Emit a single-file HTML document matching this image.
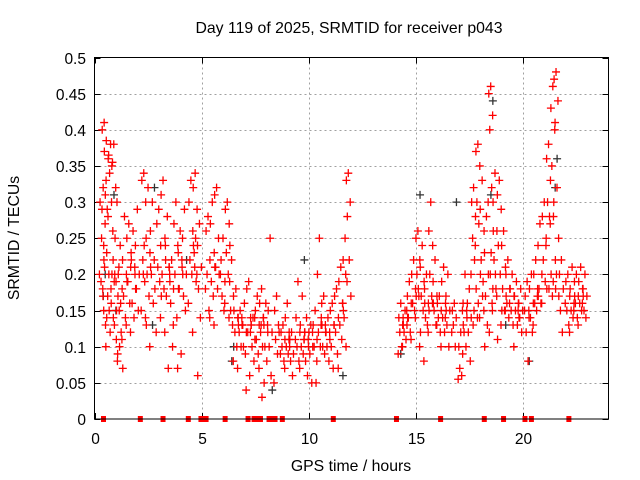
<!DOCTYPE html>
<html><head><meta charset="utf-8">
<style>
html,body{margin:0;padding:0;background:#fff;}
svg{display:block;font-family:"Liberation Sans",sans-serif;}
</style></head>
<body>
<svg id="chart" width="640" height="480" viewBox="0 0 640 480" xmlns="http://www.w3.org/2000/svg">
<rect width="640" height="480" fill="#fff"/>
<text x="349" y="33" font-size="15.8" text-anchor="middle" fill="#000">Day 119 of 2025, SRMTID for receiver p043</text>
<text transform="translate(19,238) rotate(-90)" font-size="15.8" text-anchor="middle" fill="#000">SRMTID / TECUs</text>
<text x="351" y="471" font-size="15.8" text-anchor="middle" fill="#000">GPS time / hours</text>
<g id="grid"></g>
<g id="ticks"></g>
<g id="black"></g>
<g id="red"></g>
<g id="zero"></g>
<rect x="94.5" y="57.5" width="514" height="361.5" fill="none" stroke="#000" stroke-width="1"/>
</svg>
<script>
const xTicks=[0,5,10,15,20];
const yTicks=[0,0.05,0.1,0.15,0.2,0.25,0.3,0.35,0.4,0.45,0.5];
const yTickLabels=["0","0.05","0.1","0.15","0.2","0.25","0.3","0.35","0.4","0.45","0.5"];
const redTimes=[0.35,0.45,0.55,0.75,0.9,1.05,1.2,1.4,1.6,1.8,2.0,2.3,2.5,2.7,3.0,3.2,3.4,3.6,3.8,4.0,4.2,4.5,4.7,4.9,5.3,5.5,5.7,6.0,6.2,6.4,6.6,6.8,7.0,7.2,7.4,7.6,7.8,8.0,8.2,8.5,8.8,9.0,9.2,9.5,9.7,9.9,10.1,10.3,10.5,10.7,10.9,11.1,11.3,11.5,11.7,11.85,
14.3,14.5,14.7,14.9,15.1,15.3,15.5,15.7,15.9,16.1,16.3,16.5,16.8,17.1,17.3,17.5,17.7,17.9,18.1,18.3,18.5,18.7,18.9,19.1,19.3,19.5,19.7,19.9,20.2,20.4,20.6,20.8,21.0,21.2,21.4,21.55,21.8,22.1,22.3,22.5,22.7,22.9];
const redValues=[[0.29,0.3,0.22,0.19,0.17,0.2],[0.41,0.40,0.33,0.32,0.27,0.25,0.23,0.21,0.15,0.13,0.18],[0.385,0.37,0.36,0.31,0.29,0.24,0.2,0.14,0.1,0.17],[0.38,0.365,0.355,0.34,0.3,0.28,0.22,0.18,0.12,0.2,0.15],[0.38,0.35,0.32,0.26,0.2,0.16,0.11,0.19,0.14],[0.3,0.25,0.21,0.19,0.17,0.13,0.1,0.08,0.15],[0.24,0.2,0.18,0.15,0.12,0.09,0.07,0.16],[0.28,0.22,0.2,0.17,0.14,0.11,0.19],[0.27,0.25,0.21,0.19,0.16,0.13,0.22],[0.26,0.23,0.2,0.16,0.14,0.12,0.18],[0.29,0.24,0.2,0.18,0.15,0.21],[0.34,0.33,0.3,0.22,0.19,0.15,0.13,0.24,0.2],[0.32,0.25,0.23,0.2,0.17,0.14,0.21],[0.3,0.26,0.22,0.2,0.16,0.1,0.18],[0.29,0.27,0.24,0.21,0.19,0.12,0.17],[0.33,0.31,0.25,0.2,0.18,0.14,0.22],[0.28,0.24,0.21,0.17,0.07,0.12,0.19],[0.22,0.2,0.18,0.16,0.1,0.21],[0.3,0.27,0.24,0.2,0.14,0.13,0.18],[0.26,0.23,0.21,0.18,0.09,0.07,0.2],[0.29,0.25,0.2,0.17,0.15,0.22],[0.33,0.3,0.26,0.22,0.2,0.16,0.24],[0.34,0.32,0.29,0.23,0.19,0.12,0.06,0.25,0.21],[0.27,0.24,0.21,0.18,0.14,0.2],[0.28,0.26,0.22,0.2,0.15,0.18],[0.3,0.27,0.23,0.19,0.17,0.14,0.21],[0.32,0.31,0.25,0.21,0.18,0.13,0.2],[0.25,0.22,0.19,0.17,0.15,0.2],[0.3,0.29,0.27,0.23,0.2,0.16,0.24],[0.22,0.19,0.17,0.15,0.13,0.14],[0.18,0.15,0.14,0.12,0.1,0.08,0.13],[0.15,0.14,0.13,0.12,0.1,0.07,0.13],[0.16,0.13,0.12,0.1,0.09,0.14],[0.19,0.18,0.14,0.12,0.06,0.04,0.13],[0.14,0.13,0.11,0.1,0.08,0.12],[0.17,0.15,0.13,0.11,0.09,0.14],[0.18,0.16,0.14,0.12,0.1,0.07,0.05,0.03,0.13],[0.16,0.13,0.12,0.1,0.08,0.14],[0.25,0.15,0.12,0.1,0.06,0.13],[0.17,0.15,0.13,0.11,0.09,0.05,0.12],[0.13,0.12,0.11,0.1,0.08,0.09],[0.16,0.14,0.12,0.1,0.09,0.07,0.11],[0.12,0.1,0.09,0.08,0.06,0.11],[0.19,0.14,0.12,0.1,0.08,0.11],[0.17,0.13,0.11,0.1,0.09,0.07,0.12],[0.14,0.12,0.1,0.08,0.06,0.11],[0.13,0.12,0.1,0.09,0.05,0.11],[0.15,0.13,0.11,0.1,0.05,0.12],[0.25,0.2,0.14,0.12,0.1,0.08,0.13],[0.17,0.16,0.12,0.1,0.09,0.13],[0.14,0.12,0.11,0.1,0.08,0.13],[0.16,0.15,0.13,0.1,0.07,0.12],[0.18,0.17,0.14,0.12,0.09,0.13],[0.21,0.19,0.16,0.13,0.11,0.07,0.15],[0.25,0.22,0.19,0.14,0.1,0.16],[0.34,0.33,0.3,0.28,0.22,0.2,0.17],
[0.16,0.14,0.13,0.12,0.1,0.09,0.13],[0.15,0.14,0.13,0.12,0.11,0.1,0.14],[0.19,0.17,0.16,0.14,0.12,0.15],[0.22,0.2,0.18,0.16,0.15,0.11,0.17],[0.26,0.25,0.22,0.2,0.17,0.14,0.12,0.18],[0.24,0.21,0.19,0.17,0.15,0.1,0.16],[0.2,0.18,0.16,0.14,0.13,0.08,0.15],[0.3,0.26,0.24,0.2,0.17,0.12,0.16],[0.22,0.19,0.17,0.15,0.13,0.16],[0.17,0.16,0.15,0.14,0.12,0.13],[0.21,0.19,0.16,0.14,0.12,0.1,0.15],[0.2,0.17,0.15,0.13,0.1,0.14],[0.16,0.15,0.14,0.13,0.1,0.12],[0.12,0.1,0.09,0.07,0.06,0.055,0.13],[0.2,0.16,0.14,0.12,0.1,0.15],[0.18,0.16,0.14,0.12,0.08,0.15],[0.32,0.3,0.28,0.25,0.22,0.2,0.18,0.15,0.13],[0.38,0.37,0.35,0.3,0.27,0.24,0.2,0.16,0.14],[0.33,0.29,0.26,0.22,0.19,0.14,0.1,0.17],[0.28,0.23,0.2,0.17,0.13,0.15],[0.46,0.45,0.42,0.4,0.32,0.3,0.26,0.23,0.2,0.16,0.12,0.18],[0.34,0.3,0.26,0.22,0.18,0.15,0.11,0.2],[0.33,0.31,0.29,0.24,0.2,0.17,0.15],[0.26,0.24,0.21,0.18,0.15,0.13,0.17],[0.22,0.2,0.18,0.16,0.14,0.15],[0.2,0.18,0.17,0.15,0.13,0.16],[0.19,0.17,0.16,0.15,0.13,0.1,0.14],[0.18,0.16,0.15,0.14,0.12,0.15],[0.19,0.17,0.14,0.12,0.08,0.15],[0.2,0.18,0.16,0.14,0.12,0.15],[0.22,0.2,0.18,0.16,0.15,0.13,0.17],[0.27,0.24,0.2,0.18,0.16,0.17],[0.3,0.28,0.25,0.22,0.19,0.16,0.18],[0.38,0.36,0.33,0.3,0.28,0.24,0.2,0.18],[0.46,0.43,0.4,0.35,0.3,0.27,0.22,0.19,0.17],[0.48,0.47,0.44,0.41,0.32,0.28,0.25,0.2,0.18],[0.22,0.2,0.18,0.15,0.12,0.17],[0.2,0.19,0.17,0.15,0.13,0.16],[0.21,0.18,0.16,0.15,0.14,0.12,0.17],[0.2,0.19,0.17,0.16,0.14,0.15],[0.21,0.19,0.18,0.16,0.15,0.13,0.17],[0.2,0.18,0.17,0.15,0.14,0.16]];
const blackTimes=[0.5,1.0,2.8,4.3,6.5,8.3,9.8,11.6,14.3,15.2,16.9,18.6,19.2,20.3,21.6];
const blackValues=[[0.2,0.17],[0.15,0.31],[0.32,0.13],[0.22],[0.1,0.08],[0.04],[0.22],[0.06],[0.09],[0.31],[0.3],[0.44,0.31],[0.13],[0.08],[0.36,0.32]];
const zeroTimes=[0.42,2.14,3.2,4.38,4.97,5.05,5.13,5.21,6.1,7.17,7.45,7.55,7.65,7.75,8.15,8.25,8.35,8.43,8.77,11.15,14.1,16.16,18.2,19.1,20.1,20.4,22.15];

const X0=94.5,X1=608.5,Y0=419,Y1=57.5,XMAX=24,YMAX=0.5;
const xs=t=>X0+(X1-X0)*t/XMAX;
const ys=v=>Y0-(Y0-Y1)*v/YMAX;
const NS="http://www.w3.org/2000/svg";
function mk(tag,attrs,parent){const e=document.createElementNS(NS,tag);for(const k in attrs)e.setAttribute(k,attrs[k]);parent.appendChild(e);return e;}
const grid=document.getElementById('grid'),ticks=document.getElementById('ticks');
yTicks.forEach((v,i)=>{
  const y=Math.round(ys(v))+0.5;
  if(v>0&&v<YMAX){const g=mk('line',{x1:X0,x2:X1,y1:y,y2:y,stroke:'#a0a0a0','stroke-dasharray':'2,3'},grid);
  
  }
  mk('line',{x1:X0,x2:X0+6,y1:y,y2:y,stroke:'#000'},ticks);
  mk('line',{x1:X1-6,x2:X1,y1:y,y2:y,stroke:'#000'},ticks);
  const t=mk('text',{x:86,y:y+5.5,'font-size':15.5,'text-anchor':'end',fill:'#000'},ticks);
  t.textContent=yTickLabels[i];
  
  
});
xTicks.forEach(tv=>{
  const x=Math.round(xs(tv))+0.5;
  if(tv>0){const g=mk('line',{x1:x,x2:x,y1:Y1,y2:Y0,stroke:'#a0a0a0','stroke-dasharray':'2,3'},grid);
  
  }
  mk('line',{x1:x,x2:x,y1:Y0,y2:Y0-6,stroke:'#000'},ticks);
  mk('line',{x1:x,x2:x,y1:Y1,y2:Y1+6,stroke:'#000'},ticks);
  const t=mk('text',{x:x,y:444,'font-size':15.5,'text-anchor':'middle',fill:'#000'},ticks);
  t.textContent=String(tv);
  
  
});
function plus(g,t,v,col){
  const x=xs(t),y=ys(v);
  const p=mk('path',{d:`M${x-4} ${y}H${x+4}M${x} ${y-4}V${y+4}`,stroke:col,'stroke-width':1.3,fill:'none'},g);
  
  
}
const offs=[0,-0.09,0.09,-0.045,0.045,-0.12,0.12,0.02,-0.02,0.065,-0.065,0.1];
const bg=document.getElementById('black');
blackTimes.forEach((t,i)=>blackValues[i].forEach((v,j)=>plus(bg,t+offs[j%offs.length],v,'#333')));
const rg=document.getElementById('red');
redTimes.forEach((t,i)=>redValues[i].forEach((v,j)=>plus(rg,t+offs[j%offs.length],v,'#ff0000')));
const zg=document.getElementById('zero');
zeroTimes.forEach(t=>{
  const r=mk('rect',{x:xs(t)-2.5,y:Y0-3,width:5,height:6,fill:'#ff0000'},zg);
  
  
});
</script>
</body></html>
